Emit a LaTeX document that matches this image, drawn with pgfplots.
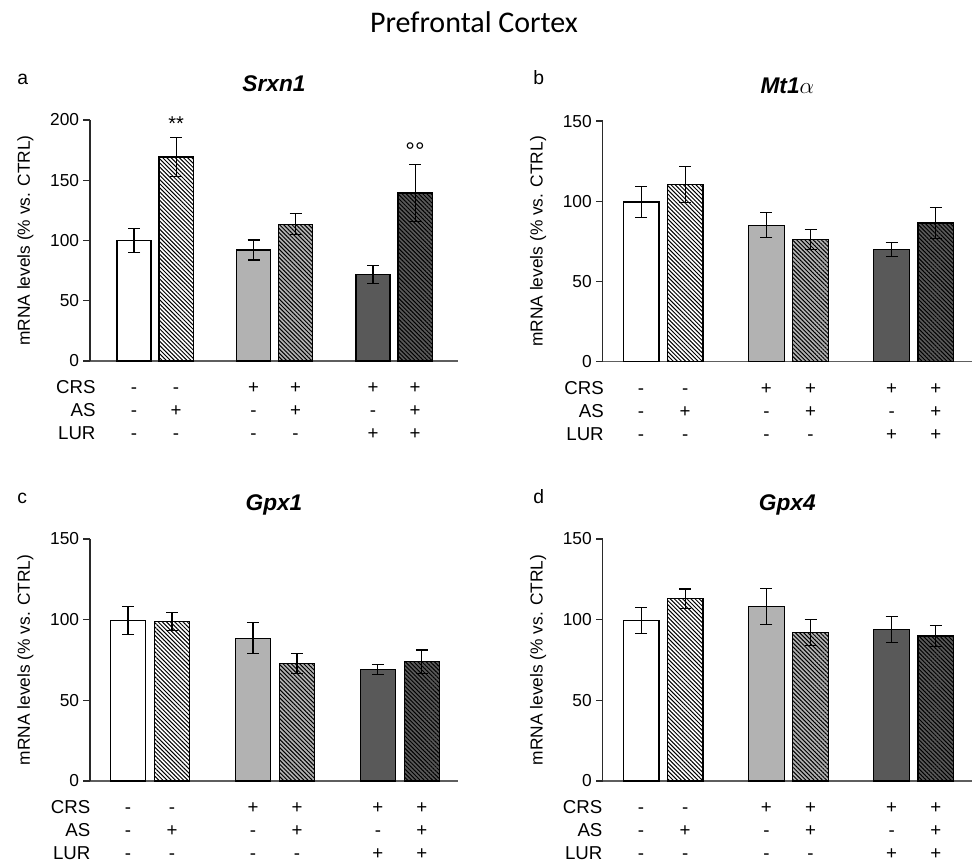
\documentclass[border=0pt]{standalone}
\usepackage{fontspec}
\setmainfont{Liberation Sans}
\newfontfamily\calibri{Carlito}
\usepackage{pgfplots}
\pgfplotsset{compat=1.18}
\usetikzlibrary{patterns.meta}
\definecolor{lightbar}{HTML}{B2B2B2}
\definecolor{darkbar}{HTML}{595959}
\definecolor{axgray}{HTML}{2A2A2A}
\definecolor{xaxgray}{HTML}{5E5E5E}

\tikzset{
  sg/.style={anchor=base, inner sep=0pt, font=\fontsize{14}{17}\selectfont},
  sgl/.style={anchor=base east, inner sep=0pt, font=\fontsize{14}{17}\selectfont},
  ttl/.style={anchor=base, inner sep=0pt, yshift=21pt, font=\fontsize{17}{20}\selectfont\bfseries\itshape},
  ylab/.style={anchor=center, rotate=90, inner sep=0pt, font=\fontsize{13}{15}\selectfont},
  plet/.style={anchor=base west, inner sep=0pt, font=\fontsize{14.5}{17}\selectfont},
}

\pgfplotsset{
  hatchpat/.style={postaction={pattern={Lines[angle=-45,distance=2.2pt,line width=0.75pt]}, pattern color=black, draw=black, line width=0.9pt}},
  b1/.style={fill=white, draw=black, line width=0.9pt, bar shift=0pt},
  b2/.style={fill=white, draw=black, line width=0.9pt, bar shift=0pt, hatchpat},
  b3/.style={fill=lightbar, draw=black, line width=0.9pt, bar shift=0pt},
  b4/.style={fill=lightbar, draw=black, line width=0.9pt, bar shift=0pt, hatchpat},
  b5/.style={fill=darkbar, draw=black, line width=0.9pt, bar shift=0pt},
  b6/.style={fill=darkbar, draw=black, line width=0.9pt, bar shift=0pt, hatchpat},
  panel/.style={
    scale only axis, clip=false,
    anchor=south west,
    axis x line=bottom, axis y line=left,
    axis line style={-},
    x axis line style={line width=0.9pt, xaxgray},
    y axis line style={line width=0.9pt, axgray},
    ybar, bar width=0.81,
    ymin=0,
    xtick=\empty,
    ytick distance=50,
    major tick length=5pt, tick align=outside,
    y tick style={line width=0.9pt, axgray},
    yticklabel style={font=\fontsize{13}{15}\selectfont, inner sep=0pt, xshift=-3pt},
    /pgf/number format/assume math mode=true,
    error bars/y dir=both, error bars/y explicit,
    error bars/error bar style={line width=0.8pt, black},
    error bars/error mark options={rotate=90, mark size=4.5pt, line width=0.8pt, black},
  },
}

% one row of the treatment table: #1 = vertical offset below the x axis, #2 = row name, #3..#8 = signs
\newcommand\srow[9]{%
  \node[sg] at ([yshift=#1]axis cs:1,0) {#3};
  \node[sg] at ([yshift=#1]axis cs:2,0) {#4};
  \node[sg] at ([yshift=#1]axis cs:3.84,0) {#5};
  \node[sg] at ([yshift=#1]axis cs:4.84,0) {#6};
  \node[sg] at ([yshift=#1]axis cs:6.68,0) {#7};
  \node[sg] at ([yshift=#1]axis cs:7.68,0) {#8};
  \node[sgl] at ([xshift=#9,yshift=#1]rel axis cs:0,0) {#2};
}
\newcommand\signtable[1]{%
  \srow{-24.5pt}{CRS}{-}{-}{+}{+}{+}{+}{#1}
  \srow{-42pt}{AS}{-}{+}{-}{+}{-}{+}{#1}
  \srow{-59pt}{LUR}{-}{-}{-}{-}{+}{+}{#1}
  \node[ylab] at ([xshift=-48.4pt]rel axis cs:0,0.5) {mRNA levels (\% vs. CTRL)};
}

\begin{document}
\begin{tikzpicture}
\useasboundingbox (0,0) rectangle (729pt,646.5pt);

\node[anchor=base, inner sep=0pt, font=\calibri\fontsize{22.5}{26}\selectfont] at (355.5pt,621.75pt) {Prefrontal Cortex};
\node[plet] at (12.75pt,583pt) {a};
\node[plet] at (399.75pt,583pt) {b};
\node[plet] at (12.75pt,268.5pt) {c};
\node[plet] at (399.75pt,268.5pt) {d};

% ---------- a: Srxn1 ----------
\begin{axis}[panel, at={(67.5pt,375.75pt)}, width=276pt, height=180.75pt,
  xmin=-0.046, xmax=8.70, ymax=200]
\addplot[b1] coordinates {(1,100) +- (0,9.7)};
\addplot[b2] coordinates {(2,169.3) +- (0,16)};
\addplot[b3] coordinates {(3.84,92.1) +- (0,8.3)};
\addplot[b4] coordinates {(4.84,113.4) +- (0,8.8)};
\addplot[b5] coordinates {(6.68,72) +- (0,7.6)};
\addplot[b6] coordinates {(7.68,139.4) +- (0,23.8)};
\node[ttl] at (rel axis cs:0.5,1) {Srxn1};
\node[anchor=base, inner sep=0pt, font=\fontsize{15}{17}\selectfont] at (axis cs:2,191) {**};
\node[anchor=base, inner sep=0pt, font=\fontsize{18}{20}\selectfont] at (axis cs:7.68,167.6) {°°};
\signtable{4.3pt}
\end{axis}

% ---------- b: Mt1alpha ----------
\begin{axis}[panel, at={(452pt,375.2pt)}, width=277pt, height=180.5pt,
  xmin=0.13, xmax=8.5, ymax=150]
\addplot[b1] coordinates {(1,99.5) +- (0,9.8)};
\addplot[b2] coordinates {(2,110.7) +- (0,11.2)};
\addplot[b3] coordinates {(3.84,85) +- (0,7.8)};
\addplot[b4] coordinates {(4.84,76.4) +- (0,6.2)};
\addplot[b5] coordinates {(6.68,70) +- (0,4.5)};
\addplot[b6] coordinates {(7.68,86.4) +- (0,9.8)};
\node[ttl] at (rel axis cs:0.5,1) {Mt1\mdseries\upshape$\alpha$};
\signtable{1pt}
\end{axis}

% ---------- c: Gpx1 ----------
\begin{axis}[panel, at={(67.5pt,60.75pt)}, width=276pt, height=181.5pt,
  xmin=0.136, xmax=8.5, ymax=150]
\addplot[b1] coordinates {(1,99.4) +- (0,8.5)};
\addplot[b2] coordinates {(2,98.8) +- (0,5.8)};
\addplot[b3] coordinates {(3.84,88.5) +- (0,9.7)};
\addplot[b4] coordinates {(4.84,73) +- (0,6.2)};
\addplot[b5] coordinates {(6.68,69.2) +- (0,3)};
\addplot[b6] coordinates {(7.68,74) +- (0,7.2)};
\node[ttl] at (rel axis cs:0.5,1) {Gpx1};
\signtable{0.5pt}
\end{axis}

% ---------- d: Gpx4 ----------
\begin{axis}[panel, at={(452pt,60.75pt)}, width=277pt, height=181.5pt,
  xmin=0.13, xmax=8.5, ymax=150]
\addplot[b1] coordinates {(1,99.6) +- (0,8.1)};
\addplot[b2] coordinates {(2,113) +- (0,6)};
\addplot[b3] coordinates {(3.84,108.3) +- (0,11.2)};
\addplot[b4] coordinates {(4.84,92.2) +- (0,8)};
\addplot[b5] coordinates {(6.68,94) +- (0,7.9)};
\addplot[b6] coordinates {(7.68,89.9) +- (0,6.6)};
\node[ttl] at (rel axis cs:0.5,1) {Gpx4};
\signtable{0pt}
\end{axis}
\end{tikzpicture}
\end{document}
